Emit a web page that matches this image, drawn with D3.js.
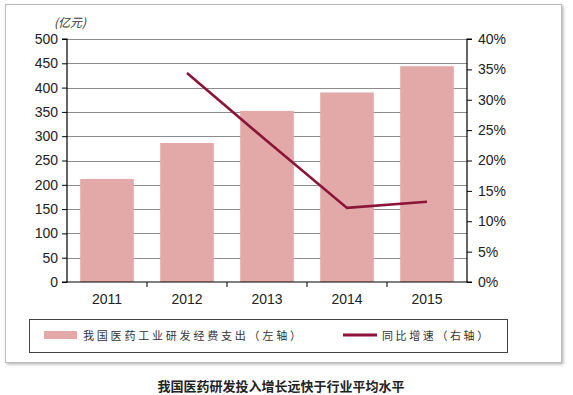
<html>
<head>
<meta charset="utf-8">
<script src="https://d3js.org/d3.v7.min.js"></script>
<style>
  body { margin: 0; background: #fff; }
</style>
</head>
<body>
<div id="chartContainer"></div>
<script>
// data
var years = ["2011", "2012", "2013", "2014", "2015"];
var spend = [212, 286, 352, 390, 444];          // 亿元, left axis
var growth = [null, 34.4, 23.2, 12.2, 13.2];    // %, right axis
var leftTicks = [0, 50, 100, 150, 200, 250, 300, 350, 400, 450, 500];
var rightTicks = [0, 5, 10, 15, 20, 25, 30, 35, 40];

var svg = d3.select("#chartContainer").append("svg")
  .attr("width", 573).attr("height", 395);

// outer frame with a soft shadow
var defs = svg.append("defs");
var f = defs.append("filter").attr("id", "shadow").attr("x", "-5%").attr("y", "-5%")
  .attr("width", "110%").attr("height", "110%");
f.append("feDropShadow").attr("dx", 1.5).attr("dy", 1.5).attr("stdDeviation", 1.5)
  .attr("flood-color", "#999").attr("flood-opacity", 0.7);
svg.append("rect").attr("x", 5.5).attr("y", 4.5).attr("width", 556).attr("height", 358)
  .attr("fill", "#fff").attr("stroke", "#bbb").attr("filter", "url(#shadow)");

// plot area (window.top is reserved, so pL/pR/pT/pB)
var pL = 67, pR = 467, pT = 39, pB = 282;

var x = d3.scaleBand().domain(years).range([pL, pR]).paddingInner(0.33).paddingOuter(0.165);
var xb = d3.scaleBand().domain(years).range([pL, pR]);
var y = d3.scaleLinear().domain([0, 500]).range([pB, pT]);
var y2 = d3.scaleLinear().domain([0, 40]).range([pB, pT]);

// gridlines
svg.append("g").selectAll("line").data(leftTicks.filter(function (d) { return d > 0; }))
  .enter().append("line")
  .attr("x1", pL).attr("x2", pR)
  .attr("y1", function (d) { return Math.round(y(d)) + 0.5; })
  .attr("y2", function (d) { return Math.round(y(d)) + 0.5; })
  .attr("stroke", "#8c8c8c").attr("stroke-width", 1);

// bars
svg.append("g").selectAll("rect").data(years).enter().append("rect")
  .attr("x", function (d) { return x(d); })
  .attr("width", x.bandwidth())
  .attr("y", function (d, i) { return y(spend[i]); })
  .attr("height", function (d, i) { return pB - y(spend[i]); })
  .attr("fill", "#e3a8a8");

// growth line
var line = d3.line()
  .defined(function (d) { return d != null; })
  .x(function (d, i) { return xb(years[i]) + xb.bandwidth() / 2; })
  .y(function (d) { return y2(d); });
svg.append("path").datum(growth).attr("d", line)
  .attr("fill", "none").attr("stroke", "#8a1538").attr("stroke-width", 2.6);

// axes
var font = "'Liberation Sans', Arial, sans-serif";
var yAxis = svg.append("g").attr("transform", "translate(" + pL + ",0)")
  .call(d3.axisLeft(y).tickValues(leftTicks).tickSize(5).tickPadding(4));
var yAxis2 = svg.append("g").attr("transform", "translate(" + pR + ",0)")
  .call(d3.axisRight(y2).tickValues(rightTicks).tickSize(5).tickPadding(6)
    .tickFormat(function (d) { return d + "%"; }));
var xAxis = svg.append("g").attr("transform", "translate(0," + pB + ")")
  .call(d3.axisBottom(xb).tickSize(0).tickPadding(12));
// category boundary ticks on the x axis
xAxis.selectAll("line.sep").data(years.slice(1)).enter().append("line")
  .attr("class", "sep")
  .attr("x1", function (d) { return xb(d); }).attr("x2", function (d) { return xb(d); })
  .attr("y1", 0).attr("y2", 5).attr("stroke", "#000");

[yAxis, yAxis2, xAxis].forEach(function (g) {
  g.selectAll("path.domain").attr("stroke", "#000").attr("stroke-width", 1.2);
  g.selectAll("text").attr("font-family", font).attr("font-size", 14).attr("fill", "#222");
});
xAxis.selectAll("path.domain").attr("d", "M" + pL + ",0H" + pR);
yAxis.selectAll("path.domain").attr("d", "M-5," + pT + "H0V" + pB + "H-5");
yAxis2.selectAll("path.domain").attr("d", "M5," + pT + "H0V" + pB + "H5");

// unit label
svg.append("text").attr("x", 70).attr("y", 27).attr("text-anchor", "middle")
  .attr("font-family", "'Noto Sans CJK SC', sans-serif").attr("font-size", 12)
  .attr("font-style", "italic").attr("fill", "#333").text("(亿元)");

// legend
svg.append("rect").attr("x", 29.5).attr("y", 319.5).attr("width", 478).attr("height", 33)
  .attr("fill", "#fff").attr("stroke", "#444").attr("stroke-width", 1);
svg.append("rect").attr("x", 44).attr("y", 331).attr("width", 33).attr("height", 8)
  .attr("fill", "#e3a8a8");
svg.append("text").attr("x", 83).attr("y", 340)
  .attr("font-family", "'Noto Sans CJK SC', sans-serif").attr("font-size", 11)
  .attr("letter-spacing", 2.8).attr("fill", "#333").text("我国医药工业研发经费支出（左轴）");
svg.append("line").attr("x1", 343).attr("x2", 377).attr("y1", 335).attr("y2", 335)
  .attr("stroke", "#8a1538").attr("stroke-width", 3);
svg.append("text").attr("x", 382).attr("y", 340)
  .attr("font-family", "'Noto Sans CJK SC', sans-serif").attr("font-size", 11)
  .attr("letter-spacing", 2.6).attr("fill", "#333").text("同比增速（右轴）");

// caption
svg.append("text").attr("x", 281).attr("y", 391).attr("text-anchor", "middle")
  .attr("font-family", "'Noto Sans CJK SC', sans-serif").attr("font-size", 13)
  .attr("font-weight", "bold").attr("fill", "#222").text("我国医药研发投入增长远快于行业平均水平");
</script>
</body>
</html>
